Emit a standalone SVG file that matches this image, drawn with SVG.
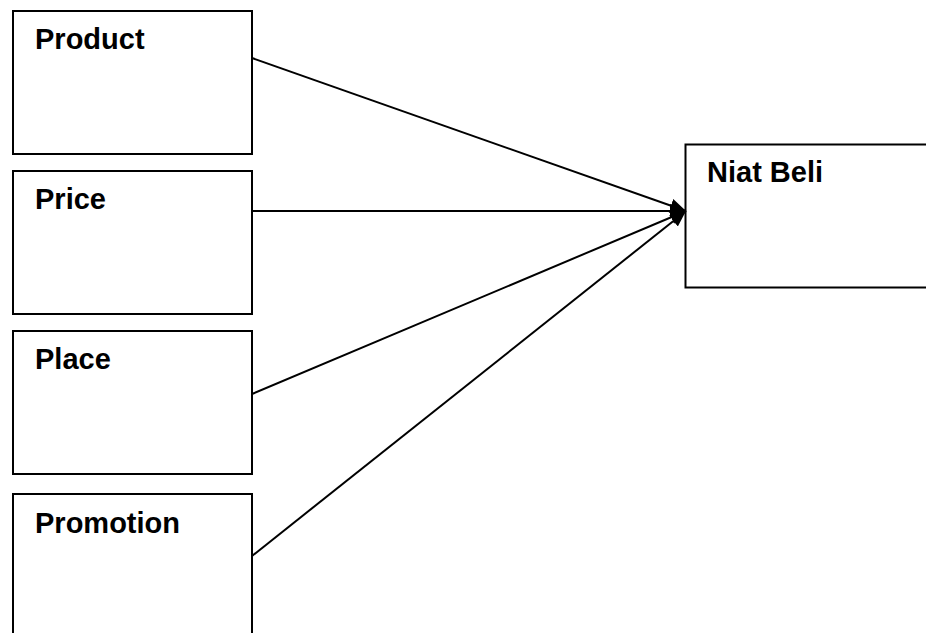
<svg xmlns="http://www.w3.org/2000/svg" width="926" height="633" viewBox="0 0 926 633">
<style>
.box{fill:#fff;stroke:#000;stroke-width:2}
.lbl{font-family:"Liberation Sans",Arial,sans-serif;font-weight:bold;font-size:29px;fill:#000}
.con{stroke:#000;stroke-width:2;fill:none;marker-end:url(#ah)}
</style>
<defs>
<marker id="ah" markerUnits="userSpaceOnUse" markerWidth="18" markerHeight="16" refX="16" refY="8" orient="auto">
<path d="M0,1 L16,8 L0,15 Z" fill="#000"/>
</marker>
</defs>
<rect width="926" height="633" fill="#fff"/>
<g id="product"><rect class="box" x="13" y="11" width="239" height="143"/><text class="lbl" x="35" y="49">Product</text></g>
<g id="price"><rect class="box" x="13" y="171" width="239" height="143"/><text class="lbl" x="35" y="209">Price</text></g>
<g id="place"><rect class="box" x="13" y="331" width="239" height="143"/><text class="lbl" x="35" y="369">Place</text></g>
<g id="promotion"><rect class="box" x="13" y="494" width="239" height="160"/><text class="lbl" x="35" y="533">Promotion</text></g>
<g id="niatbeli"><rect class="box" x="685.5" y="144.5" width="260" height="143"/><text class="lbl" x="707" y="182">Niat Beli</text></g>
<g id="connectors">
<line class="con" x1="252" y1="58" x2="686" y2="211"/>
<line class="con" x1="252" y1="211" x2="686" y2="211"/>
<line class="con" x1="252" y1="394" x2="686" y2="211"/>
<line class="con" x1="252" y1="556" x2="686" y2="211"/>
</g>
</svg>
